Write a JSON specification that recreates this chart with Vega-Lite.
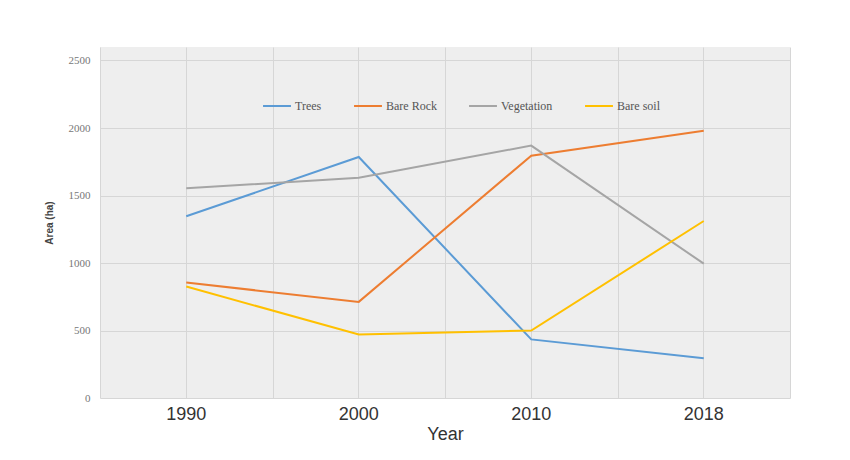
{
  "$schema": "https://vega.github.io/schema/vega-lite/v6.json",
  "autosize": {"type": "none"},
  "width": 690,
  "height": 351,
  "padding": {"left": 100, "top": 47, "right": 60, "bottom": 62},
  "background": "white",
  "config": {
    "view": {"fill": "#eeeeee", "stroke": null},
    "axis": {"gridColor": "#d6d6d6", "gridWidth": 1}
  },
  "data": {
    "values": [
      {"Year": "1990", "Class": "Trees", "Area": 1346},
      {"Year": "2000", "Class": "Trees", "Area": 1785},
      {"Year": "2010", "Class": "Trees", "Area": 434},
      {"Year": "2018", "Class": "Trees", "Area": 295},
      {"Year": "1990", "Class": "Bare Rock", "Area": 855},
      {"Year": "2000", "Class": "Bare Rock", "Area": 712},
      {"Year": "2010", "Class": "Bare Rock", "Area": 1795},
      {"Year": "2018", "Class": "Bare Rock", "Area": 1980},
      {"Year": "1990", "Class": "Vegetation", "Area": 1553},
      {"Year": "2000", "Class": "Vegetation", "Area": 1631},
      {"Year": "2010", "Class": "Vegetation", "Area": 1870},
      {"Year": "2018", "Class": "Vegetation", "Area": 995},
      {"Year": "1990", "Class": "Bare soil", "Area": 826},
      {"Year": "2000", "Class": "Bare soil", "Area": 470},
      {"Year": "2010", "Class": "Bare soil", "Area": 500},
      {"Year": "2018", "Class": "Bare soil", "Area": 1311}
    ]
  },
  "layer": [
    {
      "mark": {"type": "line", "opacity": 0},
      "encoding": {
        "x": {
          "field": "Year", "type": "ordinal",
          "scale": {"type": "band", "paddingInner": 0, "paddingOuter": 0},
          "axis": {"orient": "top", "tickBand": "extent", "grid": true, "labels": false, "ticks": false, "domain": false, "title": null}
        },
        "y": {"field": "Area", "type": "quantitative"}
      }
    },
    {
      "mark": {"type": "line", "strokeWidth": 2},
      "encoding": {
        "x": {
          "field": "Year", "type": "ordinal",
          "scale": {"type": "band", "paddingInner": 0, "paddingOuter": 0},
          "axis": {
            "orient": "bottom", "grid": true, "ticks": false, "domain": false, "labelAngle": 0,
            "labelFont": "Liberation Sans", "labelFontSize": 18, "labelColor": "#333333", "labelPadding": 7,
            "title": "Year", "titleFont": "Liberation Sans", "titleFontSize": 18, "titleFontWeight": "normal", "titleColor": "#333333", "titlePadding": 2
          }
        },
        "y": {
          "field": "Area", "type": "quantitative",
          "scale": {"domain": [0, 2500]},
          "axis": {
            "values": [0, 500, 1000, 1500, 2000, 2500], "format": "d", "ticks": false, "domain": false,
            "labelFont": "Liberation Serif", "labelFontSize": 11, "labelColor": "#777777", "labelPadding": 10,
            "title": "Area (ha)", "titleFont": "Liberation Sans", "titleFontSize": 10, "titleFontWeight": "bold", "titleColor": "#444444", "titlePadding": 14
          }
        },
        "color": {
          "field": "Class", "type": "nominal",
          "scale": {"domain": ["Trees", "Bare Rock", "Vegetation", "Bare soil"], "range": ["#5B9BD5", "#ED7D31", "#A5A5A5", "#FFC000"]},
          "legend": {
            "orient": "none", "legendX": 162, "legendY": 44, "direction": "horizontal", "title": null,
            "symbolType": "stroke", "symbolSize": 780, "symbolStrokeWidth": 2,
            "labelFont": "Liberation Serif", "labelFontSize": 12, "labelColor": "#555555", "columnPadding": 28, "labelOffset": 3
          }
        }
      }
    }
  ],
  "resolve": {"axis": {"x": "independent"}}
}
